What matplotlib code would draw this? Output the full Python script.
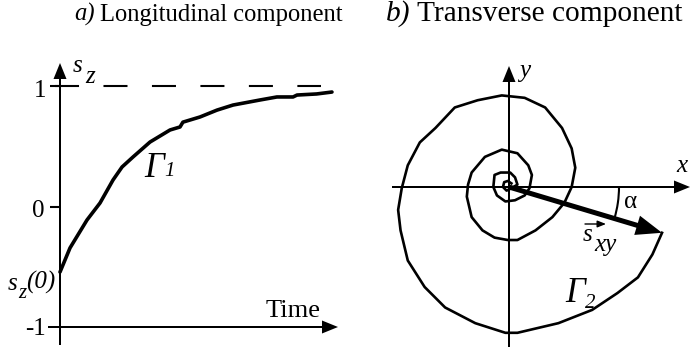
import matplotlib
matplotlib.use('Agg')
import math
import matplotlib.pyplot as plt
from matplotlib.patches import Arc, FancyArrow

plt.rcParams['font.family'] = ['Liberation Serif', 'DejaVu Serif']
plt.rcParams['lines.scale_dashes'] = False

# ---------------- data ----------------
panel_a_title = ('a)', 'Longitudinal component')
panel_b_title = ('b)', 'Transverse component')
sz_tick_values = [1, 0, -1]
sz_tick_labels = ['1', '0', '-1']
sz_limit = 1.0
time_label = 'Time'

# Gamma_1 : longitudinal relaxation curve s_z(t)
time_vals = [0.0, 0.083, 0.224, 0.332, 0.44, 0.515, 0.606, 0.747, 0.913, 0.996,
             1.02, 1.162, 1.303, 1.436, 1.66, 1.80, 1.934, 1.967, 2.13, 2.257]
sz_vals = [-0.544, -0.344, -0.112, 0.029, 0.22, 0.328, 0.411, 0.535, 0.635, 0.66,
           0.70, 0.743, 0.80, 0.842, 0.884, 0.909, 0.909, 0.925, 0.934, 0.95]

# Gamma_2 : transverse spiral (s_x, s_y), starting at the vector tip
spiral_x = [1.27, 1.19, 1.07, 0.90, 0.69, 0.41, 0.07, -0.03, -0.28, -0.53, -0.70,
            -0.84, -0.90, -0.92, -0.89, -0.84, -0.74, -0.61, -0.45, -0.26, -0.06,
            0.13, 0.30, 0.44, 0.52, 0.55, 0.52, 0.46, 0.36, 0.22, 0.07, -0.01,
            -0.12, -0.22, -0.31, -0.35, -0.34, -0.31, -0.20, -0.06, 0.07, 0.16,
            0.19, 0.17, 0.13, 0.05, -0.03, -0.10, -0.13, -0.12, -0.07, 0.01, 0.05,
            0.07, 0.02, -0.02, -0.05, -0.04, -0.01, 0.02]
spiral_y = [-0.38, -0.56, -0.75, -0.88, -1.02, -1.13, -1.21, -1.21, -1.13, -1.00,
            -0.83, -0.61, -0.36, -0.19, -0.01, 0.18, 0.37, 0.49, 0.66, 0.72, 0.76,
            0.74, 0.66, 0.49, 0.32, 0.16, 0.00, -0.13, -0.25, -0.36, -0.44, -0.44,
            -0.42, -0.36, -0.25, -0.08, 0.02, 0.12, 0.25, 0.31, 0.28, 0.18, 0.10,
            -0.01, -0.07, -0.11, -0.12, -0.07, 0.00, 0.10, 0.12, 0.12, 0.08, 0.02,
            -0.01, -0.03, 0.00, 0.04, 0.05, 0.03]

# ---------------- layout ----------------
W, H = 691, 349
PX = 120.5  # pixels per data unit (both panels, both directions)

fig = plt.figure(figsize=(W / 100, H / 100), dpi=100)
fig.patch.set_facecolor('white')

axL = fig.add_axes([0, 0, 345 / W, 304 / H])
axL.set_xlim(-60 / PX, 285 / PX)
axL.set_ylim((206.5 - 349) / PX, (206.5 - 45) / PX)
axR = fig.add_axes([345 / W, 0, 346 / W, 304 / H])
axR.set_xlim((345 - 509) / PX, (691 - 509) / PX)
axR.set_ylim((187 - 349) / PX, (187 - 45) / PX)
for ax in (axL, axR):
    ax.set_axis_off()


def Lp(px, py):
    return (px - 60) / PX, (206.5 - py) / PX


def Rp(px, py):
    return (px - 509) / PX, (187 - py) / PX


def axis_arrow(ax, p0, p1):
    ax.add_patch(FancyArrow(p0[0], p0[1], p1[0] - p0[0], p1[1] - p0[1],
                            width=2.0 / PX, head_width=13 / PX, head_length=16 / PX,
                            length_includes_head=True, color='black', lw=0, zorder=3))


FS = 18
SERIF = ['Liberation Serif', 'DejaVu Serif']
# ---------------- titles ----------------
fig.text(74 / W, 1 - 21 / H, panel_a_title[0], style='italic', fontsize=17.7,
         family=SERIF, ha='left', va='baseline')
fig.text(100 / W, 1 - 21 / H, panel_a_title[1], fontsize=17.7, family=SERIF,
         ha='left', va='baseline')
fig.text(386 / W, 1 - 21 / H, panel_b_title[0], style='italic', fontsize=21.2,
         family=SERIF, ha='left', va='baseline')
fig.text(417 / W, 1 - 21 / H, panel_b_title[1], fontsize=21.2, family=SERIF,
         ha='left', va='baseline')

# ---------------- panel a ----------------
axis_arrow(axL, (0, (206.5 - 345) / PX), (0, (206.5 - 63) / PX))
axis_arrow(axL, (-12 / PX, -1), ((338 - 60) / PX, -1))
for v in sz_tick_values[:2]:
    axL.plot([-10 / PX, 0], [v, v], color='black', lw=1.5, solid_capstyle='butt')
axL.plot([-5 / PX, (321 - 60) / PX], [sz_limit, sz_limit], color='black', lw=1.5,
         ls=(0, (17.3, 17.6)))
tick_label_px = {'1': (46, 97), '0': (44, 217), '-1': (46, 335)}
for v, lab in zip(sz_tick_values, sz_tick_labels):
    x, yb = Lp(*tick_label_px[lab])
    axL.text(x, yb, lab, fontsize=FS, ha='right', va='baseline')

axL.plot(time_vals, sz_vals, color='black', lw=2.6, solid_joinstyle='round',
         solid_capstyle='round')

axL.text(*Lp(73, 72), 's', style='italic', fontsize=FS, ha='left', va='baseline')
axL.text(*Lp(85, 83), 'z', style='italic', fontsize=FS, ha='left', va='baseline')
axL.text(*Lp(8, 290), 's', style='italic', fontsize=FS, ha='left', va='baseline')
axL.text(*Lp(18, 298), 'z', style='italic', fontsize=15, ha='left', va='baseline')
axL.text(*Lp(26, 289), '(0)', style='italic', fontsize=FS, ha='left', va='baseline')
axL.text(*Lp(266, 317), time_label, fontsize=19, ha='left', va='baseline')
axL.text(*Lp(144, 177), 'Γ', style='italic', fontsize=25, ha='left', va='baseline')
axL.text(*Lp(164, 176), '1', style='italic', fontsize=15, ha='left', va='baseline')

# ---------------- panel b ----------------
axis_arrow(axR, Rp(392, 187), Rp(690, 187))
axis_arrow(axR, Rp(509, 347), Rp(509, 66))
axR.plot(spiral_x, spiral_y, color='black', lw=1.9, solid_joinstyle='round')

tip_x, tip_y = spiral_x[0], spiral_y[0]
axR.add_patch(FancyArrow(0, 0, tip_x, tip_y, width=5 / PX, head_width=20 / PX,
                         head_length=26 / PX, length_includes_head=True,
                         color='black', lw=0, zorder=4))
alpha = math.degrees(math.atan2(tip_y, tip_x))
axR.add_patch(Arc((0, 0), 2 * 110 / PX, 2 * 110 / PX, theta1=alpha, theta2=0,
                  color='black', lw=1.5))

axR.text(*Rp(519, 77), 'y', style='italic', fontsize=FS, ha='left', va='baseline')
axR.text(*Rp(676, 172), 'x', style='italic', fontsize=FS, ha='left', va='baseline')
axR.text(*Rp(624, 208), 'α', fontsize=FS, ha='left', va='baseline')
axR.text(*Rp(583, 241), 's', style='italic', fontsize=FS, ha='left', va='baseline')
axR.text(*Rp(594, 251), 'xy', style='italic', fontsize=FS, ha='left', va='baseline')
axR.annotate('', xy=Rp(606, 224), xytext=Rp(585, 224),
             arrowprops=dict(arrowstyle='-|>,head_length=0.5,head_width=0.2',
                             color='black', lw=1.0, shrinkA=0, shrinkB=0))
axR.text(*Rp(565, 302), 'Γ', style='italic', fontsize=25, ha='left', va='baseline')
axR.text(*Rp(585, 308), '2', style='italic', fontsize=15, ha='left', va='baseline')

fig.savefig('out.png', dpi=100)
